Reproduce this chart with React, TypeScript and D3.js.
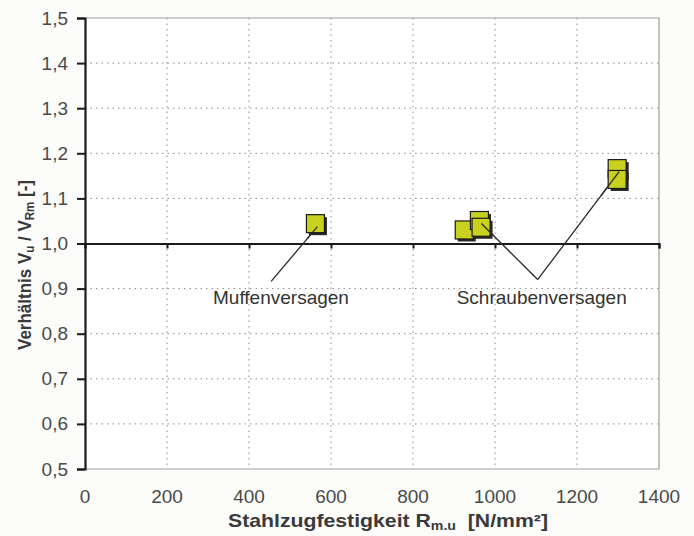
import { useEffect, useRef } from "react";
import * as d3 from "d3";

// ── Data ──────────────────────────────────────────────────────────────────────

const STRENGTH = [562, 925, 962, 966, 1298, 1298];
const RATIO    = [1.044, 1.03, 1.051, 1.036, 1.166, 1.142];

const X_TICKS = [0, 200, 400, 600, 800, 1000, 1200, 1400];
const Y_TICKS = [0.5, 0.6, 0.7, 0.8, 0.9, 1.0, 1.1, 1.2, 1.3, 1.4, 1.5];

// annotation labels: text, leader apex (data units), text position, target points
const LABELS        = ["Muffenversagen", "Schraubenversagen"];
const LABEL_X       = [454, 1104];
const LABEL_Y       = [0.916, 0.92];
const LABEL_TEXT_X  = [478, 1114];
const LABEL_TEXT_Y  = [0.865, 0.865];
const LABEL_TARGETS = [[0], [2, 4]];

// ── Config ────────────────────────────────────────────────────────────────────

const W = 694;
const H = 536;
const MARGIN = { top: 18, right: 35, bottom: 67, left: 85 };
const FONT = "Arial, 'Liberation Sans', sans-serif";
const MARKER_FILL = "#c9d11f";

// ── Component ─────────────────────────────────────────────────────────────────

const App = () => {
  const svgRef = useRef<SVGSVGElement>(null);

  useEffect(() => {
    document.body.style.margin = "0";
    if (!svgRef.current) return;

    const width  = W - MARGIN.left - MARGIN.right;
    const height = H - MARGIN.top - MARGIN.bottom;

    d3.select(svgRef.current).selectAll("*").remove();

    const root = d3.select(svgRef.current)
      .attr("width", W)
      .attr("height", H)
      .style("font-family", FONT);

    root.append("rect").attr("width", W).attr("height", H).attr("fill", "#fcfcfa");

    const svg = root.append("g")
      .attr("transform", `translate(${MARGIN.left},${MARGIN.top})`);

    const x = d3.scaleLinear().domain([0, 1400]).range([0, width]);
    const y = d3.scaleLinear().domain([0.5, 1.5]).range([height, 0]);

    svg.append("rect").attr("width", width).attr("height", height).attr("fill", "#ffffff");

    // Grid lines
    svg.append("g")
      .selectAll("line")
      .data(Y_TICKS.slice(1, -1))
      .join("line")
      .attr("x1", 0).attr("x2", width)
      .attr("y1", (d) => y(d)).attr("y2", (d) => y(d))
      .attr("stroke", "#8a8a8a")
      .attr("stroke-width", 1)
      .attr("stroke-dasharray", "1.5,4");

    svg.append("g")
      .selectAll("line")
      .data(X_TICKS.slice(1, -1))
      .join("line")
      .attr("x1", (d) => x(d)).attr("x2", (d) => x(d))
      .attr("y1", 0).attr("y2", height)
      .attr("stroke", "#8a8a8a")
      .attr("stroke-width", 1)
      .attr("stroke-dasharray", "1.5,4");

    // Plot border (top, right, bottom)
    svg.append("path")
      .attr("d", `M0,0H${width}V${height}H0`)
      .attr("fill", "none")
      .attr("stroke", "#a39a98")
      .attr("stroke-width", 1.2);

    // Horizontal axis at 1.0
    svg.append("g")
      .attr("transform", `translate(0,${y(1.0)})`)
      .call(d3.axisBottom(x).tickValues(X_TICKS).tickSize(5).tickFormat(() => ""))
      .call((g) => g.select(".domain").attr("stroke", "#1a1a1a").attr("stroke-width", 2))
      .call((g) => g.selectAll(".tick line").attr("stroke", "#1a1a1a").attr("stroke-width", 2));

    // Y axis
    svg.append("g")
      .call(d3.axisLeft(y).tickValues(Y_TICKS).tickSize(8).tickPadding(9)
        .tickFormat((d) => d3.format(".1f")(d as number).replace(".", ",")))
      .call((g) => g.select(".domain").attr("stroke", "#1a1a1a").attr("stroke-width", 2.2))
      .call((g) => g.selectAll(".tick line").attr("stroke", "#1a1a1a").attr("stroke-width", 2))
      .call((g) => g.selectAll("text")
        .attr("font-size", "19px")
        .attr("font-family", FONT)
        .attr("fill", "#4a4a4a"));

    // X tick labels (low position)
    svg.append("g")
      .selectAll("text")
      .data(X_TICKS)
      .join("text")
      .attr("x", (d) => x(d))
      .attr("y", height + 34)
      .attr("text-anchor", "middle")
      .attr("font-size", "19px")
      .attr("fill", "#4a4a4a")
      .text((d) => String(d));

    // Annotation leader lines
    LABELS.forEach((_, i) => {
      LABEL_TARGETS[i].forEach((t) => {
        svg.append("line")
          .attr("x1", x(LABEL_X[i])).attr("y1", y(LABEL_Y[i]))
          .attr("x2", x(STRENGTH[t]) + 2).attr("y2", y(RATIO[t]) + 3)
          .attr("stroke", "#2a2a2a")
          .attr("stroke-width", 1.3);
      });
    });

    // Markers
    const S = 18;
    const pts = STRENGTH.map((v, i) => ({ v, r: RATIO[i] }));

    svg.append("g")
      .selectAll("rect")
      .data(pts)
      .join("rect")
      .attr("x", (d) => x(d.v) - S / 2 + 2.5)
      .attr("y", (d) => y(d.r) - S / 2 + 2.5)
      .attr("width", S).attr("height", S)
      .attr("fill", "#262626");

    svg.append("g")
      .selectAll("rect")
      .data(pts)
      .join("rect")
      .attr("x", (d) => x(d.v) - S / 2)
      .attr("y", (d) => y(d.r) - S / 2)
      .attr("width", S).attr("height", S)
      .attr("fill", MARKER_FILL)
      .attr("stroke", "#1a1a1a")
      .attr("stroke-width", 1.2);

    // leader line tips drawn again over markers
    LABELS.forEach((_, i) => {
      LABEL_TARGETS[i].forEach((t) => {
        const x2 = x(STRENGTH[t]) + 2;
        const y2 = y(RATIO[t]) + 3;
        const x1 = x(LABEL_X[i]);
        const y1 = y(LABEL_Y[i]);
        const k = 0.22;
        svg.append("line")
          .attr("x1", x2 + (x1 - x2) * k).attr("y1", y2 + (y1 - y2) * k)
          .attr("x2", x2).attr("y2", y2)
          .attr("stroke", "#2a2a2a")
          .attr("stroke-width", 1.3);
      });
    });

    // Annotation labels
    LABELS.forEach((label, i) => {
      svg.append("text")
        .attr("x", x(LABEL_TEXT_X[i]))
        .attr("y", y(LABEL_TEXT_Y[i]))
        .attr("text-anchor", "middle")
        .attr("font-size", "19px")
        .attr("fill", "#333333")
        .text(label);
    });

    // Y axis title
    const yTitle = root.append("text")
      .attr("transform", `translate(31,265) rotate(-90) scale(1,1.1)`)
      .attr("text-anchor", "middle")
      .attr("font-size", "17px")
      .attr("font-weight", "bold")
      .attr("fill", "#3a3a3a");
    yTitle.append("tspan").text("Verhältnis V");
    yTitle.append("tspan").attr("font-size", "11.5px").attr("dy", 3).text("u");
    yTitle.append("tspan").attr("dy", -3).text(" / V");
    yTitle.append("tspan").attr("font-size", "11.5px").attr("dy", 3).text("Rm");
    yTitle.append("tspan").attr("dy", -3).text(" [-]");

    // X axis title
    const xTitle = root.append("text")
      .attr("transform", `translate(388,${H - 9}) scale(1.18,1)`)
      .attr("text-anchor", "middle")
      .attr("font-size", "18px")
      .attr("font-weight", "bold")
      .attr("fill", "#3a3a3a")
      .attr("xml:space", "preserve");
    xTitle.append("tspan").text("Stahlzugfestigkeit R");
    xTitle.append("tspan").attr("font-size", "12px").attr("dy", 3).text("m.u");
    xTitle.append("tspan").attr("dy", -3).text("  [N/mm²]");
  }, []);

  return <svg ref={svgRef} style={{ display: "block" }} />;
};

export default App;
